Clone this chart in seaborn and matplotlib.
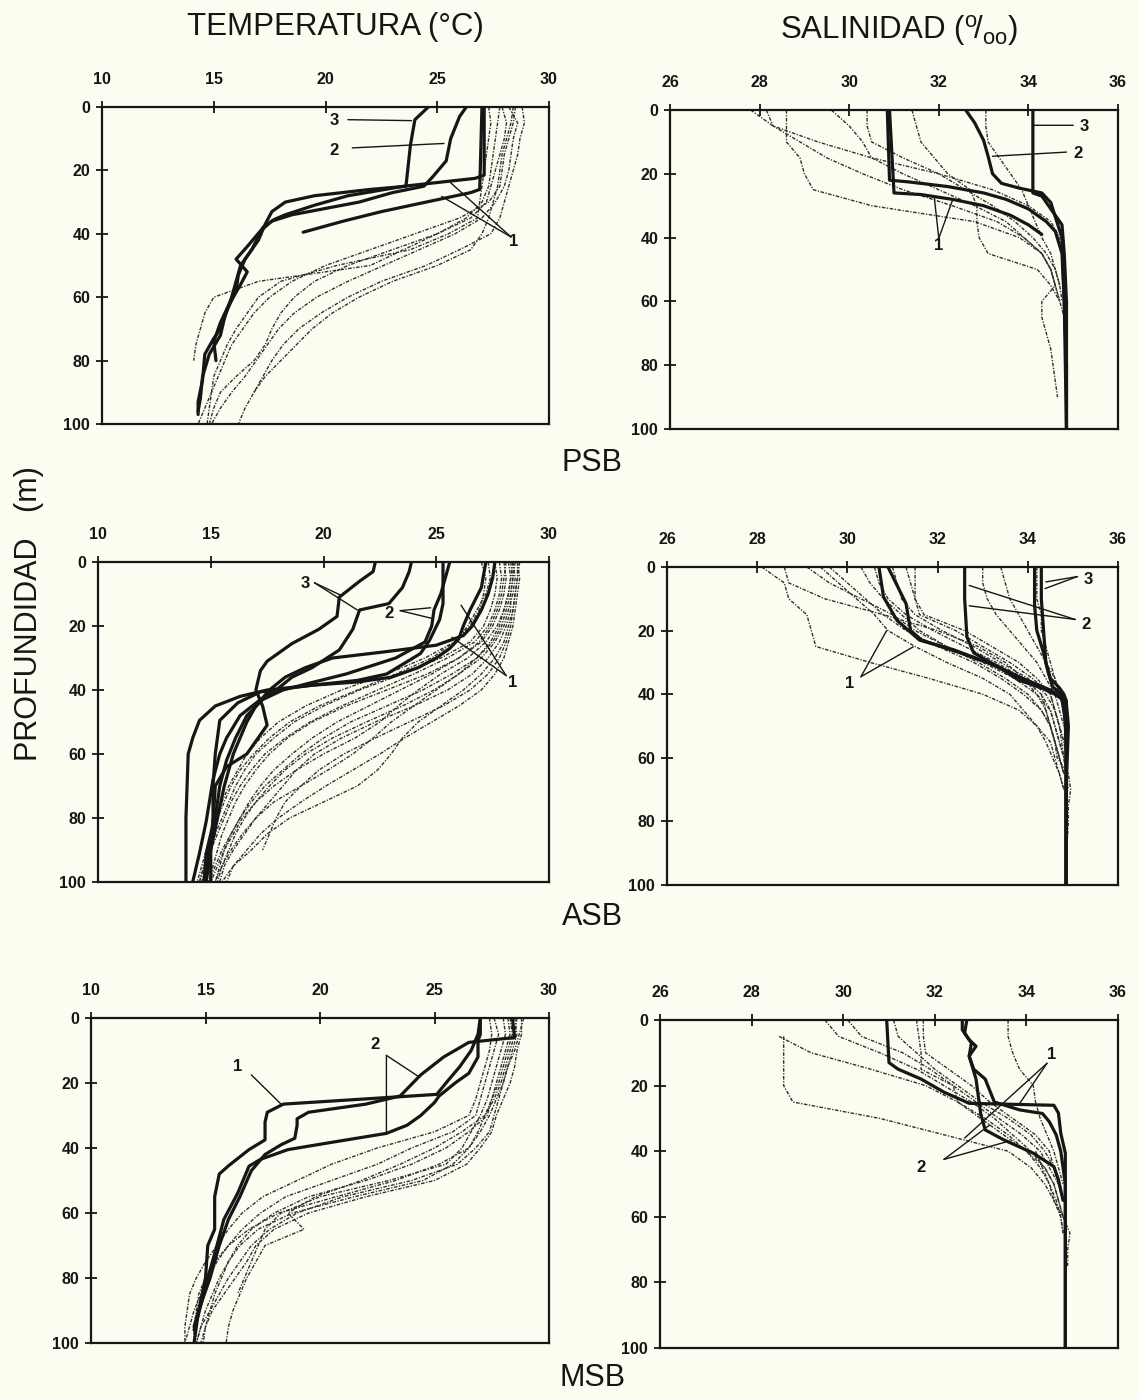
import numpy as np
import pandas as pd
import matplotlib
matplotlib.use("Agg")
import matplotlib.pyplot as plt
import seaborn as sns

N = None
DEPTH_GRID = list(range(0, 101, 5))

# ---------------- PSB : temperature (°C) ----------------
PSB_T_THIN = {
    "a": [27.8, 27.7, 27.6, 27.5, 27.4, 27.3, 27.0, 26.3, 25.0, 23.5, 22.0, 17.0, 15.0, 14.6, 14.4, 14.2, 14.1, N, N, N, N],
    "b": [28.5, 28.4, 28.2, 28.0, 27.9, 27.8, 27.3, 26.0, 24.0, 22.0, 20.0, 18.5, 17.5, 16.8, 16.3, 15.8, 15.5, 15.2, 14.9, 14.6, 14.3],
    "c": [28.2, 28.6, 28.4, 28.3, 28.2, 28.0, 27.6, 27.0, 25.8, 24.2, 22.6, 21.0, 19.6, 18.6, 17.9, 17.4, 16.9, 16.4, 15.8, 15.3, 14.9],
    "d": [28.8, 28.9, 28.7, 28.6, 28.4, 28.2, 28.0, 27.8, 27.4, 26.0, 24.5, 22.5, 21.0, 19.8, 18.8, 18.1, 17.6, 17.2, 16.8, 16.4, 16.1],
    "e": [27.9, 28.1, 28.0, 27.8, 27.6, 27.4, 27.2, 26.5, 25.0, 23.0, 21.0, 19.5, 18.6, 18.0, 17.6, 17.3, 16.8, 16.0, 15.3, 15.0, 14.8],
    "f": [28.4, 28.3, 28.1, 27.9, 27.8, 27.7, 27.5, 27.3, 27.0, 26.5, 25.0, 23.0, 21.5, 20.3, 19.4, 18.7, 18.0, 17.3, 16.8, N, N],
    "g": [27.3, 27.4, 27.3, 27.2, 27.1, 27.0, 26.9, 26.8, 25.5, 23.8, 20.5, 18.0, 17.0, 16.5, 16.0, 15.6, 15.3, 15.0, 14.9, 14.8, 14.7],
}
PSB_T_THICK_Z = {
    "3": [0, 4, 12, 25, 26, 28, 30, 33, 37, 42, 48, 53, 58, 64, 70, 73, 78, 86, 93, 97],
    "2": [0, 3, 10, 17, 22, 25, 27, 30, 34, 36, 39, 44, 48, 52, 56, 62, 68, 74, 80],
    "1a": [0, 21.5, 22.5, 25, 28, 31, 34, 35.5, 38, 45, 50, 55, 60, 66, 72, 78, 85, 92, 96],
    "1b": [0, 26, 27, 30, 33, 36, 39.5],
}
PSB_T_THICK = {
    "3": [24.6, 24.0, 23.8, 23.6, 22.0, 19.5, 18.2, 17.6, 17.3, 17.0, 16.4, 16.1, 16.0, 15.6, 15.3, 15.0, 14.6, 14.5, 14.3, 14.3],
    "2": [26.3, 26.0, 25.6, 25.4, 24.8, 24.4, 23.0, 21.5, 18.5, 17.6, 17.1, 16.5, 16.0, 16.5, 16.2, 15.7, 15.3, 15.0, 15.1],
    "1a": [27.1, 27.1, 26.7, 23.5, 21.0, 19.5, 18.2, 17.7, 17.2, 16.7, 16.2, 16.0, 15.8, 15.5, 15.3, 14.8, 14.5, 14.4, 14.3],
    "1b": [27.0, 26.9, 26.5, 24.5, 22.5, 20.8, 19.0],
}

# ---------------- PSB : salinity ----------------
PSB_S_THIN = {
    "a": [27.8, 28.3, 29.3, 30.5, 32.0, 33.2, 34.0, 34.5, 34.7, 34.75, 34.8, 34.8, 34.8, N, N, N, N, N, N, N, N],
    "b": [28.15, 28.3, 28.9, 29.5, 30.3, 31.2, 32.3, 33.3, 33.9, 34.3, 34.5, 34.6, 34.3, 34.3, 34.4, 34.5, 34.55, 34.6, 34.65, N, N],
    "c": [28.6, 28.6, 28.6, 28.9, 29.0, 29.2, 30.5, 32.8, 33.8, 34.3, 34.5, 34.6, 34.7, 34.8, N, N, N, N, N, N, N],
    "d": [29.6, 30.0, 30.3, 30.5, 31.2, 32.0, 32.8, 33.5, 33.9, 34.3, 34.5, 34.6, 34.7, N, N, N, N, N, N, N, N],
    "e": [30.4, 30.4, 30.5, 31.2, 32.0, 32.6, 33.2, 33.7, 34.1, 34.4, 34.6, 34.7, 34.75, N, N, N, N, N, N, N, N],
    "f": [31.4, 31.5, 31.6, 31.9, 32.2, 32.7, 32.85, 32.85, 32.9, 33.1, 34.2, 34.5, 34.7, N, N, N, N, N, N, N, N],
    "g": [33.05, 33.05, 33.1, 33.35, 33.6, 33.85, 34.0, 34.15, 34.3, 34.5, 34.6, 34.7, N, N, N, N, N, N, N, N, N],
}
PSB_S_THICK_Z = {
    "3": [0, 26, 27, 30, 33, 36, 45, 60, 80, 100],
    "2": [0, 4, 9.5, 14.5, 20, 23, 24.5, 26, 29, 33.5, 40, 60, 100],
    "1a": [0, 22, 22.5, 24, 26, 28, 31, 35, 38, 45, 60, 80, 100],
    "1b": [0, 26, 26.5, 28, 30, 33, 36, 39],
}
PSB_S_THICK = {
    "3": [34.1, 34.1, 34.3, 34.45, 34.6, 34.75, 34.8, 34.85, 34.85, 34.85],
    "2": [32.6, 32.8, 33.0, 33.1, 33.2, 33.4, 33.8, 34.3, 34.5, 34.6, 34.75, 34.8, 34.85],
    "1a": [30.85, 30.9, 31.3, 32.2, 33.0, 33.5, 34.0, 34.4, 34.6, 34.75, 34.8, 34.85, 34.85],
    "1b": [30.9, 31.0, 31.6, 32.3, 33.0, 33.6, 34.0, 34.3],
}

# ---------------- ASB : temperature (°C) ----------------
ASB_T_THIN = {
    "01": [28.6, 28.6, 28.5, 28.4, 28.2, 28.0, 27.6, 27.0, 26.2, 25.2, 24.2, 23.5, 23.0, 22.4, 21.5, 20.0, 18.5, 17.5, 16.8, 16.0, 15.5],
    "02": [28.4, 28.5, 28.4, 28.2, 28.0, 27.6, 27.0, 26.0, 25.0, 24.0, 23.0, 22.2, 21.3, 20.2, 19.0, 17.8, 17.0, 16.4, 15.9, 15.5, 15.2],
    "03": [28.2, 28.3, 28.2, 28.0, 27.7, 27.2, 26.4, 25.2, 24.2, 23.3, 22.5, 21.4, 20.0, 18.8, 17.8, 17.0, 16.4, 16.0, 15.6, 15.3, 15.0],
    "04": [28.0, 28.1, 28.0, 27.8, 27.5, 27.0, 26.0, 24.8, 23.4, 22.0, 20.6, 19.5, 18.6, 17.8, 17.2, 16.7, 16.3, 15.9, 15.5, 15.2, 14.9],
    "05": [27.8, 27.9, 27.8, 27.6, 27.3, 26.7, 25.5, 24.0, 22.4, 20.8, 19.4, 18.3, 17.4, 16.8, 16.3, 15.9, 15.6, 15.3, 15.0, 14.8, 14.6],
    "06": [28.5, 28.4, 28.3, 28.3, 28.1, 27.8, 27.3, 26.6, 25.5, 24.0, 22.3, 20.8, 19.6, 18.8, 18.2, 17.6, 17.0, 16.5, 16.0, 15.6, 15.4],
    "07": [27.6, 27.7, 27.6, 27.4, 27.1, 26.5, 25.2, 23.5, 21.6, 20.0, 18.7, 17.8, 17.0, 16.5, 16.1, 15.8, 15.5, 15.2, 15.0, 14.7, 14.5],
    "08": [28.7, 28.6, 28.5, 28.4, 28.3, 28.1, 27.8, 27.3, 26.5, 25.3, 23.8, 22.3, 20.9, 19.8, 19.0, 18.3, 17.9, 17.6, 17.3, N, N],
    "09": [27.3, 27.4, 27.2, 26.8, 26.4, 25.8, 24.8, 23.2, 21.5, 19.8, 18.5, 17.6, 16.9, 16.3, 15.9, 15.6, 15.3, 15.1, 14.9, 14.7, 14.5],
    "10": [28.3, 28.4, 28.3, 28.1, 27.9, 27.5, 26.8, 25.7, 24.4, 22.8, 21.2, 20.0, 19.0, 18.2, 17.4, 16.8, 16.3, 15.9, 15.6, 15.4, 15.2],
    "11": [28.1, 28.0, 27.9, 27.7, 27.4, 26.9, 26.0, 24.6, 22.8, 21.0, 19.5, 18.4, 17.6, 17.0, 16.5, 16.1, 15.8, 15.5, 15.3, 15.1, 14.9],
    "12": [28.6, 28.7, 28.6, 28.5, 28.4, 28.2, 28.0, 27.6, 27.0, 26.0, 24.8, 23.6, 22.5, 21.3, 20.1, 19.0, 18.0, 17.2, 16.6, 16.0, 15.7],
    "13": [27.0, 27.2, 27.1, 26.9, 26.5, 25.8, 24.5, 22.8, 20.8, 19.2, 18.0, 17.2, 16.6, 16.2, 15.8, 15.5, 15.2, 15.0, 14.8, 14.6, 14.4],
    "14": [28.4, 28.3, 28.2, 28.0, 27.8, 27.4, 26.8, 26.0, 24.9, 23.5, 21.9, 20.4, 19.2, 18.3, 17.6, 17.0, 16.5, 16.1, 15.8, 15.5, 15.3],
}
ASB_T_THICK_Z = {
    "3a": [0, 3, 6, 11, 17, 21, 25.5, 31, 34, 40, 45, 51, 60, 64, 70, 82, 91, 100],
    "3b": [0, 3, 8, 13, 15, 21, 27.5, 33, 36, 40, 43, 48, 55, 60, 68, 81, 91, 100],
    "2a": [0, 13, 18, 24.5, 28.6, 35, 37, 38.5, 40.6, 44, 49.5, 60, 70, 80, 90, 100],
    "2b": [0, 5, 10, 15, 20, 25, 30, 35, 38, 40, 43, 48, 55, 62, 70, 80, 90, 100],
    "1a": [0, 8, 15, 20, 24, 27, 30, 33, 36, 37.5, 38.5, 40, 42, 45, 49.5, 55, 60, 70, 80, 90, 100],
    "1b": [0, 5, 10, 15, 20, 23, 26, 28, 30, 33, 36, 40, 45, 50, 55, 60, 70, 80, 90, 100],
}
ASB_T_THICK = {
    "3a": [22.3, 22.2, 21.6, 20.7, 20.6, 19.8, 18.6, 17.5, 17.2, 17.0, 17.3, 17.5, 16.6, 15.7, 15.2, 15.1, 14.8, 14.7],
    "3b": [23.9, 23.8, 23.5, 22.9, 21.6, 21.3, 20.7, 19.5, 18.6, 17.9, 17.2, 16.3, 15.7, 15.4, 15.1, 14.8, 14.5, 14.2],
    "2a": [25.3, 25.3, 25.15, 24.7, 24.3, 22.8, 21.5, 19.5, 17.2, 16.2, 15.4, 15.2, 15.1, 15.1, 15.0, 15.0],
    "2b": [25.6, 25.4, 25.2, 24.9, 24.8, 24.5, 23.2, 21.0, 19.3, 18.2, 17.3, 16.6, 16.1, 15.7, 15.4, 15.2, 14.9, 14.7],
    "1a": [27.2, 27.0, 26.5, 26.2, 26.0, 25.6, 25.0, 24.2, 23.0, 21.5, 19.5, 17.5, 16.3, 15.2, 14.5, 14.2, 14.0, 13.95, 13.9, 13.9, 13.9],
    "1b": [27.6, 27.5, 27.3, 27.0, 26.6, 26.2, 25.0, 22.8, 20.4, 19.2, 18.3, 17.6, 17.0, 16.6, 16.3, 16.0, 15.6, 15.3, 15.0, 14.8],
}

# ---------------- ASB : salinity ----------------
ASB_S_THIN = {
    "01": [28.1, 28.6, 28.7, 29.1, 29.2, 29.3, 30.5, 31.8, 33.0, 33.8, 34.2, 34.5, 34.6, 34.7, 34.8, N, N, N, N, N, N],
    "02": [28.6, 28.7, 29.5, 30.8, 32.0, 32.9, 33.5, 33.9, 34.2, 34.4, 34.5, 34.6, 34.7, 34.8, N, N, N, N, N, N, N],
    "03": [29.1, 29.6, 30.3, 31.0, 31.5, 32.2, 32.9, 33.5, 34.0, 34.3, 34.5, 34.6, 34.7, 34.8, N, N, N, N, N, N, N],
    "04": [29.6, 30.0, 30.4, 30.8, 31.3, 32.0, 32.8, 33.4, 33.9, 34.3, 34.5, 34.6, 34.7, 34.8, N, N, N, N, N, N, N],
    "05": [30.3, 30.5, 30.8, 31.2, 31.6, 32.2, 33.0, 33.7, 34.2, 34.5, 34.6, 34.7, 34.8, 34.85, N, N, N, N, N, N, N],
    "06": [30.6, 30.7, 30.9, 31.3, 31.9, 32.6, 33.3, 33.9, 34.3, 34.5, 34.6, 34.7, 34.8, N, N, N, N, N, N, N, N],
    "07": [31.0, 31.1, 31.2, 31.5, 32.1, 32.8, 33.4, 34.0, 34.4, 34.6, 34.7, 34.8, 34.85, N, N, N, N, N, N, N, N],
    "08": [31.3, 31.4, 31.5, 31.6, 32.4, 33.0, 33.6, 34.1, 34.5, 34.6, 34.7, 34.75, 34.8, 34.85, 34.9, N, N, N, N, N, N],
    "09": [31.5, 31.5, 31.5, 31.7, 32.6, 33.2, 33.8, 34.2, 34.5, 34.6, 34.7, 34.8, N, N, N, N, N, N, N, N, N],
    "10": [33.0, 33.0, 33.1, 33.3, 33.6, 33.9, 34.2, 34.4, 34.6, 34.7, 34.8, N, N, N, N, N, N, N, N, N, N],
    "11": [33.4, 33.5, 33.6, 33.8, 34.0, 34.2, 34.4, 34.6, 34.7, 34.8, N, N, N, N, N, N, N, N, N, N, N],
    "12": [34.2, 34.2, 34.2, 34.3, 34.3, 34.4, 34.5, 34.6, 34.7, 34.8, N, N, N, N, N, N, N, N, N, N, N],
    "13": [N, N, N, N, N, N, N, N, 34.3, 34.4, 34.5, 34.6, 34.65, 34.9, 34.95, 34.9, 34.9, 34.88, N, N, N],
    "14": [29.4, 29.8, 30.2, 30.6, 30.9, 31.5, 32.2, 33.0, 33.6, 33.9, 34.2, 34.4, 34.55, 34.7, 34.8, N, N, N, N, N, N],
}
ASB_S_THICK_Z = {
    "3a": [0, 10, 20, 30, 35, 38, 40, 42, 50, 60, 80, 100],
    "3b": [0, 12, 20, 27, 33, 37.7, 40, 45, 60, 80, 100],
    "2": [0, 10, 22, 27, 31, 35.6, 38.5, 40, 42, 50, 70, 100],
    "1a": [0, 9.4, 16.8, 23, 26, 30, 34.5, 38.7, 41, 50, 70, 100],
    "1b": [0, 11.5, 20, 23, 27, 31, 36, 40, 42, 55],
}
ASB_S_THICK = {
    "3a": [34.3, 34.3, 34.35, 34.4, 34.5, 34.7, 34.8, 34.85, 34.85, 34.85, 34.85, 34.85],
    "3b": [34.15, 34.15, 34.2, 34.35, 34.45, 34.55, 34.75, 34.85, 34.85, 34.85, 34.85],
    "2": [32.6, 32.6, 32.65, 32.8, 33.3, 33.8, 34.4, 34.7, 34.85, 34.9, 34.85, 34.85],
    "1a": [30.7, 30.8, 31.1, 31.6, 32.35, 33.1, 33.8, 34.5, 34.75, 34.85, 34.85, 34.85],
    "1b": [30.9, 31.3, 31.4, 31.65, 32.5, 33.3, 34.0, 34.6, 34.8, 34.85],
}

# ---------------- MSB : temperature (°C) ----------------
MSB_T_THIN = {
    "01": [28.5, 28.6, 28.4, 28.2, 28.0, 27.8, 27.6, 27.4, 26.8, 26.0, 24.0, 21.0, 19.0, 17.8, 17.0, 16.5, 16.0, 15.6, 15.2, 14.8, 14.6],
    "02": [28.8, 28.8, 28.6, 28.5, 28.3, 28.0, 27.7, 27.5, 27.0, 26.4, 25.0, 22.0, 19.5, 18.0, 17.2, 16.8, 16.3, 15.8, 15.3, 15.0, 14.8],
    "03": [28.2, 28.3, 28.1, 27.9, 27.7, 27.5, 27.3, 26.5, 25.5, 24.0, 22.0, 19.5, 18.0, 17.0, 16.4, 16.0, 15.6, 15.3, 15.0, 14.8, 14.6],
    "04": [27.6, 27.8, 27.6, 27.4, 27.2, 27.0, 26.8, 25.8, 24.0, 22.5, 20.5, 18.5, 17.4, 16.6, 16.0, 15.5, 15.1, 14.8, 14.5, 14.3, 14.1],
    "05": [28.6, 28.5, 28.3, 28.1, 27.9, 27.6, 27.2, 26.2, 25.0, 23.5, 21.8, 19.8, 18.6, 19.3, 17.6, 17.2, 16.8, 16.5, 16.2, 16.0, 15.9],
    "06": [28.0, 28.1, 27.9, 27.7, 27.5, 27.3, 27.0, 26.6, 26.2, 25.5, 23.0, 20.0, 18.3, 17.6, 17.3, 17.0, 16.7, 16.4, N, N, N],
    "07": [27.4, 27.5, 27.4, 27.2, 27.0, 26.8, 26.5, 25.0, 22.5, 20.5, 19.0, 17.5, 16.6, 16.0, 15.5, 15.0, 14.6, 14.3, 14.2, 14.1, 14.1],
    "08": [28.3, 28.4, 28.2, 28.0, 27.8, 27.5, 27.2, 26.9, 26.5, 25.8, 24.5, 21.5, 18.8, 17.3, 16.5, 16.0, 15.7, 15.4, 15.2, 15.0, 14.9],
    "09": [28.9, 28.7, 28.5, 28.2, 28.0, 27.7, 27.4, 27.0, 26.5, 25.2, 23.3, 20.7, 18.2, 16.9, 16.0, 15.4, 15.0, 14.7, 14.6, 14.5, 14.5],
}
MSB_T_THICK_Z = {
    "1": [0, 5, 10, 15, 20, 23.5, 26.5, 29, 32, 37.5, 40.5, 45.5, 48, 55, 65, 70, 80, 90, 100],
    "2a": [0, 6, 7.5, 12, 17.5, 24, 26.5, 29, 31, 33, 37, 39, 42, 47, 55, 62, 70, 80, 90, 95],
    "2b": [0, 5, 7, 12, 17, 20, 24, 26, 30, 33, 35.5, 38.5, 40.5, 43.5, 45.6, 54, 62, 70, 80, 91, 96],
}
MSB_T_THICK = {
    "1": [27.0, 26.9, 26.6, 26.1, 25.5, 25.1, 18.4, 17.7, 17.6, 17.6, 16.9, 16.0, 15.6, 15.4, 15.4, 15.1, 15.0, 14.7, 14.5],
    "2a": [28.4, 28.5, 26.5, 25.4, 24.4, 23.5, 22.0, 19.5, 19.0, 19.0, 18.9, 18.3, 17.6, 17.0, 16.5, 16.0, 15.6, 15.2, 14.7, 14.5],
    "2b": [27.0, 27.0, 26.9, 26.9, 26.5, 25.9, 25.2, 25.0, 24.4, 23.8, 22.9, 20.3, 18.6, 17.4, 16.9, 16.4, 15.8, 15.5, 15.1, 14.7, 14.5],
}

# ---------------- MSB : salinity ----------------
MSB_S_THIN = {
    "01": [N, 28.7, 28.7, 28.7, 28.7, 28.9, 30.8, 32.2, 33.6, 34.1, 34.4, 34.6, 34.75, 34.8, N, N, N, N, N, N, N],
    "02": [29.6, 29.9, 30.8, 31.6, 32.2, 32.8, 33.3, 33.7, 34.1, 34.4, 34.6, 34.7, 34.8, N, N, N, N, N, N, N, N],
    "03": [30.1, 30.4, 31.3, 31.9, 32.4, 32.9, 33.4, 33.9, 34.3, 34.5, 34.7, 34.8, N, N, N, N, N, N, N, N, N],
    "04": [31.1, 31.2, 31.6, 32.0, 32.5, 33.0, 33.6, 34.1, 34.4, 34.6, 34.7, 34.8, N, N, N, N, N, N, N, N, N],
    "05": [31.6, 31.65, 31.7, 31.7, 32.4, 32.5, 33.0, 33.5, 34.0, 34.4, 34.6, 34.7, 34.8, N, N, N, N, N, N, N, N],
    "06": [31.75, 31.75, 31.8, 32.3, 32.8, 33.2, 33.7, 34.2, 34.5, 34.6, 34.7, N, N, N, N, N, N, N, N, N, N],
    "07": [33.6, 33.6, 33.7, 33.85, 34.15, 34.2, 34.3, 34.45, 34.6, 34.7, 34.8, N, N, N, N, N, N, N, N, N, N],
    "08": [N, 28.6, 29.3, 30.6, 31.8, 32.5, 33.1, 33.6, 34.0, 34.3, 34.5, 34.65, 34.75, 34.8, N, N, N, N, N, N, N],
    "09": [N, N, N, N, N, N, N, N, 34.2, 34.35, 34.5, 34.6, 34.8, 34.95, 34.9, 34.9, N, N, N, N, N],
}
MSB_S_THICK_Z = {
    "1": [0, 13, 15, 18, 22, 25.4, 26, 28.4, 34.5, 40.6, 50, 60, 80, 100],
    "2a": [0, 3, 6, 8, 11, 15, 18, 25, 27.4, 28.5, 31, 35, 40, 45, 50, 60, 80, 100],
    "2b": [0, 4, 7, 11, 18, 28.4, 33.5, 36.5, 40.6, 44.7, 48.7, 55],
}
MSB_S_THICK = {
    "1": [30.95, 31.0, 31.2, 31.7, 32.2, 32.75, 34.6, 34.7, 34.75, 34.85, 34.85, 34.85, 34.85, 34.85],
    "2a": [32.6, 32.6, 32.75, 32.9, 32.75, 32.85, 33.1, 33.3, 33.85, 34.35, 34.5, 34.65, 34.75, 34.8, 34.85, 34.85, 34.85, 34.85],
    "2b": [32.7, 32.65, 32.8, 32.75, 32.9, 33.0, 33.1, 33.5, 34.15, 34.6, 34.7, 34.8],
}

TEMP_TICKS = [10, 15, 20, 25, 30]
SAL_TICKS = [26, 28, 30, 32, 34, 36]
DEPTH_TICKS = [0, 20, 40, 60, 80, 100]

PAPER = "#fcfcf1"
INK = "#161616"
THIN_INK = "#303030"
THIN_DASH = (0, (2.6, 1.1, 0.9, 1.1))

sns.set_style("ticks")
plt.rcParams["font.family"] = ["Liberation Sans", "DejaVu Sans"]
plt.rcParams["mathtext.fontset"] = "custom"
plt.rcParams["mathtext.rm"] = "Liberation Sans"
plt.rcParams["mathtext.it"] = "Liberation Sans"


def long_table(profiles, depths):
    frames = []
    for name, vals in profiles.items():
        z = depths[name] if isinstance(depths, dict) else depths
        v = np.array(vals, dtype=float)
        z = np.array(z, dtype=float)
        ok = ~np.isnan(v)
        frames.append(pd.DataFrame({"depth": z[ok], "value": v[ok], "profile": name}))
    return pd.concat(frames, ignore_index=True)


def draw_panel(ax, thin, thick, thick_z, xlim, xticks):
    sns.lineplot(data=long_table(thin, DEPTH_GRID), x="value", y="depth",
                 units="profile", estimator=None, sort=False, ax=ax,
                 color=THIN_INK, linewidth=1.0, linestyle=THIN_DASH)
    sns.lineplot(data=long_table(thick, thick_z), x="value", y="depth",
                 units="profile", estimator=None, sort=False, ax=ax,
                 color=INK, linewidth=2.3, solid_joinstyle="round",
                 solid_capstyle="round")
    ax.set_facecolor(PAPER)
    ax.set_xlim(*xlim)
    ax.set_ylim(100, 0)
    ax.set_xticks(xticks)
    ax.set_yticks(DEPTH_TICKS)
    ax.set_xlabel("")
    ax.set_ylabel("")
    ax.xaxis.set_ticks_position("top")
    ax.yaxis.set_ticks_position("left")
    ax.tick_params(axis="x", direction="inout", length=9, width=1.3,
                   pad=10, labelsize=11.5, colors=INK)
    ax.tick_params(axis="y", direction="inout", length=9, width=1.3,
                   pad=4, labelsize=11.5, colors=INK)
    for lab in ax.get_xticklabels() + ax.get_yticklabels():
        lab.set_fontweight("bold")
    for sp in ax.spines.values():
        sp.set_linewidth(1.6)
        sp.set_color(INK)


def callout(ax, text, at, start, targets):
    ax.text(at[0], at[1], text, ha="center", va="center", fontsize=12,
            fontweight="bold", color=INK)
    for tgt in targets:
        ax.annotate("", xy=tgt, xytext=start,
                    arrowprops=dict(arrowstyle="-", color=INK, lw=1.0,
                                    shrinkA=0, shrinkB=0))


W, H = 1139, 1399
fig = plt.figure(figsize=(W / 100, H / 100), dpi=100, facecolor=PAPER)


def box(left, top, right, bottom):
    return [left / W, 1 - bottom / H, (right - left) / W, (bottom - top) / H]


ax1 = fig.add_axes(box(102, 107, 549, 424))
ax2 = fig.add_axes(box(670, 110, 1118, 429))
ax3 = fig.add_axes(box(98, 562, 549, 882))
ax4 = fig.add_axes(box(667, 567, 1118, 885))
ax5 = fig.add_axes(box(91, 1018, 549, 1343))
ax6 = fig.add_axes(box(660, 1020, 1118, 1348))

draw_panel(ax1, PSB_T_THIN, PSB_T_THICK, PSB_T_THICK_Z, (10, 30), TEMP_TICKS)
draw_panel(ax2, PSB_S_THIN, PSB_S_THICK, PSB_S_THICK_Z, (26, 36), SAL_TICKS)
draw_panel(ax3, ASB_T_THIN, ASB_T_THICK, ASB_T_THICK_Z, (10, 30), TEMP_TICKS)
draw_panel(ax4, ASB_S_THIN, ASB_S_THICK, ASB_S_THICK_Z, (26, 36), SAL_TICKS)
draw_panel(ax5, MSB_T_THIN, MSB_T_THICK, MSB_T_THICK_Z, (10, 30), TEMP_TICKS)
draw_panel(ax6, MSB_S_THIN, MSB_S_THICK, MSB_S_THICK_Z, (26, 36), SAL_TICKS)

# profile group labels with leader lines
callout(ax1, "3", (20.4, 4.3), (21.0, 4.0), [(23.85, 4.3)])
callout(ax1, "2", (20.4, 13.8), (21.2, 12.9), [(25.3, 11.5)])
callout(ax1, "1", (28.4, 42.5), (28.3, 41.0), [(25.6, 23.9), (25.2, 28.2)])

callout(ax2, "3", (35.25, 5.2), (35.0, 4.8), [(34.1, 4.8)])
callout(ax2, "2", (35.1, 13.6), (34.85, 13.2), [(33.2, 14.5)])
callout(ax2, "1", (32.0, 42.5), (32.0, 40.2), [(31.9, 27.5), (32.3, 28.5)])

callout(ax3, "3", (19.2, 6.8), (19.6, 6.5), [(20.8, 10.5), (21.5, 15.0)])
callout(ax3, "2", (22.9, 16.0), (23.4, 15.2), [(24.75, 14.3), (24.85, 17.7)])
callout(ax3, "1", (28.4, 37.5), (28.1, 35.5), [(26.1, 13.5), (25.7, 23.5)])

callout(ax4, "3", (35.35, 4.0), (35.1, 3.0), [(34.4, 4.7), (34.38, 6.8)])
callout(ax4, "2", (35.3, 18.0), (35.05, 16.5), [(32.7, 5.8), (32.7, 12.2)])
callout(ax4, "1", (30.05, 36.5), (30.3, 34.5), [(30.87, 20.0), (31.46, 25.1)])

callout(ax5, "1", (16.4, 14.9), (17.0, 17.5), [(18.3, 26.5)])
callout(ax5, "2", (22.4, 8.2), (22.9, 11.5), [(24.3, 18.0), (22.9, 35.0)])

callout(ax6, "1", (34.55, 10.5), (34.45, 13.2), [(33.85, 25.5), (32.65, 36.0)])
callout(ax6, "2", (31.7, 45.0), (32.2, 42.5), [(33.6, 37.0), (33.2, 32.0)])

# column headings, region names and shared depth label
fig.text(335 / W, 1 - 27 / H, "TEMPERATURA (°C)", ha="center", va="center",
         fontsize=22.5, color=INK)
fig.text(899 / W, 1 - 30 / H, r"SALINIDAD ($^{\rm o}\!/_{\rm oo}$)",
         ha="center", va="center", fontsize=22.5, color=INK)
for name, y in (("PSB", 463), ("ASB", 917), ("MSB", 1378)):
    fig.text(592 / W, 1 - y / H, name, ha="center", va="center",
             fontsize=22, color=INK)
fig.text(29 / W, 1 - 614 / H, "PROFUNDIDAD   (m)", rotation=90,
         ha="center", va="center", fontsize=22, color=INK)

fig.savefig("out.png", dpi=100, facecolor=PAPER)
